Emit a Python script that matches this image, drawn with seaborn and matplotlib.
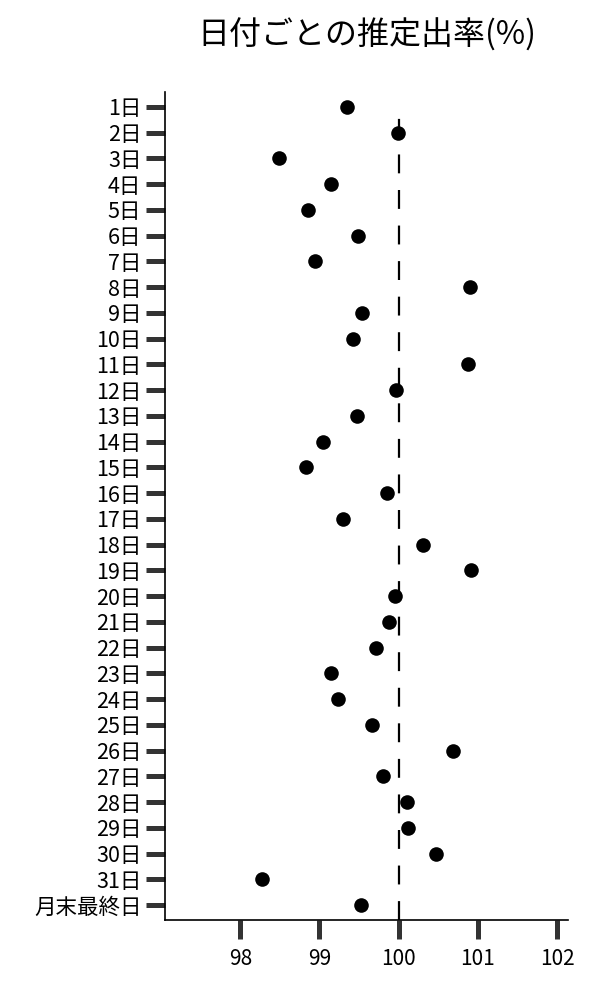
import matplotlib
matplotlib.use("Agg")
import matplotlib.pyplot as plt
import seaborn as sns
import pandas as pd

labels = [f"{i}日" for i in range(1, 32)] + ["月末最終日"]
values = [99.35, 99.99, 98.49, 99.15, 98.86, 99.49, 98.94, 100.90, 99.54, 99.42,
          100.88, 99.97, 99.47, 99.04, 98.83, 99.85, 99.30, 100.31, 100.91, 99.95,
          99.88, 99.71, 99.15, 99.24, 99.66, 100.69, 99.80, 100.10, 100.12, 100.47,
          98.28, 99.52]
title = "日付ごとの推定出率(%)"
x_ticks = [98, 99, 100, 101, 102]
ref_value = 100

sns.set_style("ticks")
plt.rcParams['font.family'] = ['Noto Sans CJK JP', 'DejaVu Sans']
plt.rcParams['text.color'] = 'black'

df = pd.DataFrame({"day": labels, "rate": values})

fig = plt.figure(figsize=(6, 10), dpi=100)
ax = fig.add_axes([0.275, 0.08, 0.672, 0.828])
sns.stripplot(data=df, x="rate", y="day", order=labels, jitter=False,
              color="black", size=10.5, ax=ax, zorder=3)
ax.axvline(ref_value, ymax=0.985, color="black", linestyle=(0, (8.5, 7.5)),
           linewidth=1.6, zorder=2)

ax.set_xlim(97.05, 102.14)
ax.set_ylim(len(labels) - 0.42, -0.58)
ax.set_xticks(x_ticks)
ax.set_xticklabels([str(t) for t in x_ticks])
ax.set_xlabel("")
ax.set_ylabel("")
ax.tick_params(axis="both", length=14, width=3.6, color="#333333",
               labelcolor="black")
ax.tick_params(axis="x", labelsize=15, pad=6)
ax.tick_params(axis="y", labelsize=15.5, pad=3)
for s in ["top", "right"]:
    ax.spines[s].set_visible(False)
for s in ["left", "bottom"]:
    ax.spines[s].set_linewidth(1.2)
    ax.spines[s].set_color("black")
ax.set_title(title, fontsize=23, pad=34, color="black")

fig.savefig("out.png", dpi=100)
